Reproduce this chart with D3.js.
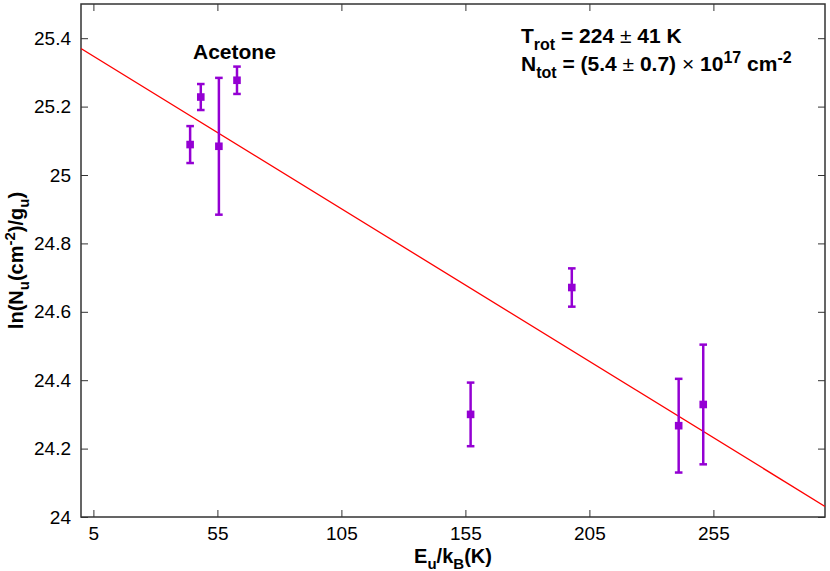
<!DOCTYPE html>
<html>
<head>
<meta charset="utf-8">
<script src="https://cdn.jsdelivr.net/npm/d3@7"></script>
<style>
  body { margin: 0; background: #fff; }
  text { font-family: "Liberation Sans", Arial, sans-serif; }
</style>
</head>
<body>
<svg id="chartSVG" width="830" height="571"></svg>
<script>
// rotational diagram points
const energies = [44.0, 48.3, 55.6, 62.9, 157.1, 197.9, 241.0, 250.9];
const lnValues = [25.089, 25.228, 25.084, 25.277, 24.300, 24.671, 24.267, 24.329];
const lnErrors = [0.054, 0.038, 0.200, 0.040, 0.093, 0.056, 0.137, 0.175];

// fitted line end points
const fitX = [0, 300];
const fitY = [25.370, 24.031];

const xTicks = [5, 55, 105, 155, 205, 255];
const yTicks = [24, 24.2, 24.4, 24.6, 24.8, 25, 25.2, 25.4];

const margin = { top: 4, right: 5, bottom: 54, left: 81 },
  width = 830 - margin.left - margin.right,
  height = 571 - margin.top - margin.bottom;

const purple = "#9400d3";

let svg = d3.select("#chartSVG");
let g = svg.append("g").attr("transform", `translate(${margin.left},${margin.top})`);

let x = d3.scaleLinear().domain([0, 300]).range([0, width]);
let y = d3.scaleLinear().domain([24, 25.5]).range([height, 0]);

// axes, ticks point inward and are mirrored on top / right
g.append("g")
  .attr("transform", `translate(0,${height})`)
  .call(d3.axisBottom(x).tickValues(xTicks).tickSize(-7).tickSizeOuter(0).tickPadding(10));
g.append("g")
  .call(d3.axisLeft(y).tickValues(yTicks).tickFormat(d3.format("")).tickSize(-7).tickSizeOuter(0).tickPadding(10));
g.append("g")
  .call(d3.axisTop(x).tickValues(xTicks).tickSize(-7).tickSizeOuter(0).tickFormat(""));
g.append("g")
  .attr("transform", `translate(${width},0)`)
  .call(d3.axisRight(y).tickValues(yTicks).tickSize(-7).tickSizeOuter(0).tickFormat(""));

g.selectAll(".domain").remove();
g.selectAll(".tick line").attr("stroke", "#333").attr("stroke-width", 1);
g.selectAll(".tick text").attr("font-size", 19).attr("fill", "#000")
  .attr("font-family", "'Liberation Sans', Arial, sans-serif");

g.append("rect")
  .attr("width", width).attr("height", height)
  .attr("fill", "none").attr("stroke", "#333").attr("stroke-width", 1.5);

// clip for the fit line
svg.append("clipPath").attr("id", "plotClip")
  .append("rect").attr("width", width).attr("height", height);

let fitData = fitX.map((d, i) => ({ x: d, y: fitY[i] }));
g.append("path")
  .datum(fitData)
  .attr("clip-path", "url(#plotClip)")
  .attr("fill", "none")
  .attr("stroke", "#ff0000")
  .attr("stroke-width", 1.3)
  .attr("d", d3.line().x(d => x(d.x)).y(d => y(d.y)));

let points = energies.map((e, i) => ({ e: e, v: lnValues[i], err: lnErrors[i] }));

let bars = g.append("g").selectAll("g").data(points).join("g")
  .attr("stroke", purple).attr("stroke-width", 2.5);
bars.append("line")
  .attr("x1", d => x(d.e)).attr("x2", d => x(d.e))
  .attr("y1", d => y(d.v - d.err)).attr("y2", d => y(d.v + d.err));
bars.append("line")
  .attr("x1", d => x(d.e) - 3.8).attr("x2", d => x(d.e) + 3.8)
  .attr("y1", d => y(d.v + d.err)).attr("y2", d => y(d.v + d.err));
bars.append("line")
  .attr("x1", d => x(d.e) - 3.8).attr("x2", d => x(d.e) + 3.8)
  .attr("y1", d => y(d.v - d.err)).attr("y2", d => y(d.v - d.err));

g.append("g").selectAll("rect").data(points).join("rect")
  .attr("x", d => x(d.e) - 3.8).attr("y", d => y(d.v) - 3.8)
  .attr("width", 7.6).attr("height", 7.6)
  .attr("fill", purple);

// labels
svg.append("text")
  .attr("x", 193).attr("y", 59)
  .attr("font-size", 21).attr("font-weight", "bold")
  .text("Acetone");

let t1 = svg.append("text").attr("x", 521).attr("y", 43)
  .attr("font-size", 21).attr("font-weight", "bold");
t1.append("tspan").text("T");
t1.append("tspan").attr("font-size", 16).attr("dy", 7).text("rot");
t1.append("tspan").attr("dy", -7).text(" = 224 ");
t1.append("tspan").attr("font-weight", "normal").text("±");
t1.append("tspan").text(" 41 K");

let t2 = svg.append("text").attr("x", 521).attr("y", 71)
  .attr("font-size", 21).attr("font-weight", "bold");
t2.append("tspan").text("N");
t2.append("tspan").attr("font-size", 16).attr("dy", 7).text("tot");
t2.append("tspan").attr("dy", -7).text(" = (5.4 ");
t2.append("tspan").attr("font-weight", "normal").text("±");
t2.append("tspan").text(" 0.7) ");
t2.append("tspan").attr("font-weight", "normal").text("×");
t2.append("tspan").text(" 10");
t2.append("tspan").attr("font-size", 16).attr("dy", -8).text("17");
t2.append("tspan").attr("dy", 8).text(" cm");
t2.append("tspan").attr("font-size", 16).attr("dy", -8).text("-2");

// x axis title
let xt = svg.append("text")
  .attr("x", margin.left + width / 2).attr("y", 563)
  .attr("text-anchor", "middle")
  .attr("font-size", 20).attr("font-weight", "bold");
xt.append("tspan").text("E");
xt.append("tspan").attr("font-size", 15).attr("dy", 6).text("u");
xt.append("tspan").attr("dy", -6).text("/k");
xt.append("tspan").attr("font-size", 15).attr("dy", 6).text("B");
xt.append("tspan").attr("dy", -6).text("(K)");

// y axis title
let yt = svg.append("text")
  .attr("transform", `translate(23,${margin.top + height / 2}) rotate(-90)`)
  .attr("text-anchor", "middle")
  .attr("font-size", 20).attr("font-weight", "bold");
yt.append("tspan").text("ln(N");
yt.append("tspan").attr("font-size", 15).attr("dy", 6).text("u");
yt.append("tspan").attr("dy", -6).text("(cm");
yt.append("tspan").attr("font-size", 15).attr("dy", -8).text("-2");
yt.append("tspan").attr("dy", 8).text(")/g");
yt.append("tspan").attr("font-size", 15).attr("dy", 6).text("u");
yt.append("tspan").attr("dy", -6).text(")");
</script>
</body>
</html>
